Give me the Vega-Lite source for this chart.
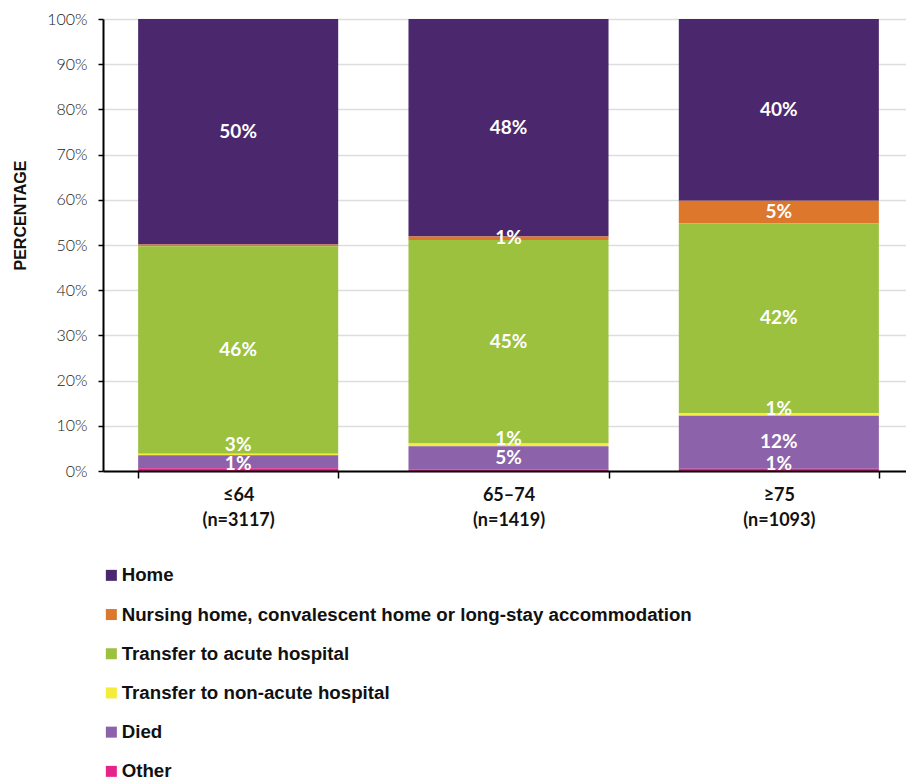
{
  "$schema": "https://vega.github.io/schema/vega-lite/v6.json",
  "width": 803,
  "height": 452,
  "autosize": {"type": "none"},
  "padding": {"left": 103, "top": 19, "right": 0, "bottom": 310},
  "background": "white",
  "config": {"view": {"stroke": null}},
  "data": {
    "values": [
      {"age": "≤64 (n=3117)", "outcome": "Home", "pct": 49.9},
      {"age": "≤64 (n=3117)", "outcome": "Nursing home, convalescent home or long-stay accommodation", "pct": 0.4},
      {"age": "≤64 (n=3117)", "outcome": "Transfer to acute hospital", "pct": 45.9},
      {"age": "≤64 (n=3117)", "outcome": "Transfer to non-acute hospital", "pct": 0.3},
      {"age": "≤64 (n=3117)", "outcome": "Died", "pct": 2.9},
      {"age": "≤64 (n=3117)", "outcome": "Other", "pct": 0.6},
      {"age": "65–74 (n=1419)", "outcome": "Home", "pct": 48.1},
      {"age": "65–74 (n=1419)", "outcome": "Nursing home, convalescent home or long-stay accommodation", "pct": 0.8},
      {"age": "65–74 (n=1419)", "outcome": "Transfer to acute hospital", "pct": 45.0},
      {"age": "65–74 (n=1419)", "outcome": "Transfer to non-acute hospital", "pct": 0.6},
      {"age": "65–74 (n=1419)", "outcome": "Died", "pct": 5.2},
      {"age": "65–74 (n=1419)", "outcome": "Other", "pct": 0.3},
      {"age": "≥75 (n=1093)", "outcome": "Home", "pct": 40.2},
      {"age": "≥75 (n=1093)", "outcome": "Nursing home, convalescent home or long-stay accommodation", "pct": 5.0},
      {"age": "≥75 (n=1093)", "outcome": "Transfer to acute hospital", "pct": 42.0},
      {"age": "≥75 (n=1093)", "outcome": "Transfer to non-acute hospital", "pct": 0.6},
      {"age": "≥75 (n=1093)", "outcome": "Died", "pct": 11.7},
      {"age": "≥75 (n=1093)", "outcome": "Other", "pct": 0.5}
    ]
  },
  "transform": [
    {"calculate": "indexof(['Other','Died','Transfer to non-acute hospital','Transfer to acute hospital','Nursing home, convalescent home or long-stay accommodation','Home'], datum.outcome)", "as": "stackOrder"},
    {"stack": "pct", "groupby": ["age"], "sort": [{"field": "stackOrder", "order": "ascending"}], "as": ["y0", "y1"]},
    {"calculate": "(datum.y0 + datum.y1) / 2", "as": "mid"},
    {"calculate": "datum.outcome == 'Other' ? datum.y0 + 1.6 : (datum.outcome == 'Died' && datum.pct < 4) ? datum.y1 + 2.2 : datum.outcome == 'Transfer to non-acute hospital' ? datum.mid + 1.2 : datum.mid", "as": "labelY"},
    {"calculate": "datum.pct >= 0.5 ? round(datum.pct) + '%' : ''", "as": "label"}
  ],
  "encoding": {
    "x": {
      "field": "age",
      "type": "nominal",
      "sort": null,
      "title": null,
      "scale": {"range": [0, 811], "paddingInner": 0.26, "paddingOuter": 0.13},
      "axis": {
        "zindex": 1,
        "grid": false,
        "domainColor": "#000000",
        "domainWidth": 2,
        "tickColor": "#000000",
        "tickWidth": 1.5,
        "tickSize": 7,
        "tickBand": "extent",
        "labelAngle": 0,
        "labelFont": "Lato",
        "labelFontWeight": "bold",
        "labelFontSize": 18,
        "labelColor": "#111111",
        "labelLineHeight": 25,
        "labelPadding": 8,
        "labelExpr": "split(datum.label, ' ')"
      }
    }
  },
  "layer": [
    {
      "mark": {"type": "bar"},
      "encoding": {
        "y": {
          "field": "y1",
          "type": "quantitative",
          "scale": {"domain": [0, 100], "nice": false},
          "axis": {
            "zindex": 0,
            "values": [0, 10, 20, 30, 40, 50, 60, 70, 80, 90, 100],
            "labelExpr": "datum.value + '%'",
            "labelFont": "Lato",
            "labelFontWeight": 300,
            "labelFontSize": 16,
            "labelColor": "#222222",
            "labelPadding": 11,
            "domainColor": "#000000",
            "domainWidth": 2,
            "tickColor": "#000000",
            "tickWidth": 1.5,
            "tickSize": 5,
            "grid": true,
            "gridColor": "#dddddd",
            "gridWidth": 1.5,
            "title": "PERCENTAGE",
            "titleFont": "Liberation Sans",
            "titleFontWeight": "bold",
            "titleFontSize": 16,
            "titleColor": "#111111",
            "titleAngle": 270,
            "titleBaseline": "bottom",
            "titleX": -75,
            "titleY": 196
          }
        },
        "y2": {"field": "y0"},
        "color": {
          "field": "outcome",
          "type": "nominal",
          "scale": {
            "domain": ["Home", "Nursing home, convalescent home or long-stay accommodation", "Transfer to acute hospital", "Transfer to non-acute hospital", "Died", "Other"],
            "range": ["#4B286D", "#DC772B", "#9BC13F", "#F4EB3B", "#8C62AA", "#E5238B"]
          },
          "legend": {
            "orient": "none",
            "legendX": -1,
            "legendY": 547,
            "direction": "vertical",
            "title": null,
            "symbolType": "square",
            "symbolSize": 121,
            "symbolStrokeWidth": 0,
            "labelFont": "Liberation Sans",
            "labelFontWeight": "bold",
            "labelFontSize": 18.7,
            "labelColor": "#111111",
            "labelLimit": 0,
            "labelOffset": 1,
            "rowPadding": 19.2
          }
        }
      }
    },
    {
      "mark": {"type": "text", "font": "Lato", "fontWeight": "bold", "fontSize": 19, "color": "#ffffff", "baseline": "middle"},
      "encoding": {
        "y": {"field": "labelY", "type": "quantitative"},
        "text": {"field": "label"}
      }
    }
  ]
}
